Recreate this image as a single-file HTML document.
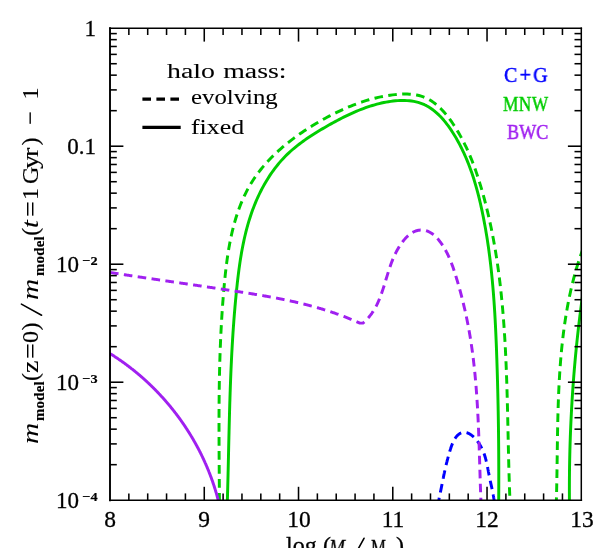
<!DOCTYPE html>
<html><head><meta charset="utf-8">
<style>
html,body{margin:0;padding:0;background:#fff;overflow:hidden;width:598px;height:548px;}
#w{position:absolute;left:0;top:0;width:598px;height:548px;overflow:hidden;background:#fff;contain:strict;}
body{width:598px;height:548px;overflow:hidden;position:relative;font-family:"Liberation Serif",serif;color:#000;}
svg{position:absolute;left:0;top:0;}
.t{-webkit-text-stroke:0.3px currentColor;will-change:transform;position:absolute;white-space:nowrap;line-height:1;transform-origin:0 0;}
.xt{font-size:23px;top:507.8px;width:50px;text-align:center;transform-origin:50% 0;transform:scaleX(1.02);}
.yt{font-size:23px;transform-origin:100% 0;transform:scaleX(1.0);width:60px;text-align:right;}
.sp{will-change:transform;-webkit-text-stroke:0.2px #000;font-size:13px;transform-origin:0 0;transform:scaleX(1.1);font-weight:bold;position:absolute;white-space:nowrap;line-height:1;letter-spacing:0.3px;}
.lg{font-size:21px;-webkit-text-stroke:0.5px currentColor;}
#yl{left:36.9px;top:442px;width:0;height:0;transform:rotate(-90deg);}
#yl span{-webkit-text-stroke:0.18px #000;position:absolute;white-space:nowrap;line-height:1;font-size:24px;bottom:-5.2px;transform-origin:0 100%;}
#yl span.sb{font-size:14px;font-weight:bold;bottom:-9.6px;transform:scaleX(1.06);letter-spacing:0.2px;}
#yl span.mi{transform:scaleX(1.22);-webkit-text-stroke:0.05px #000;}
#yl span.sl{transform:scaleX(1.95);-webkit-text-stroke:0;}
#yl span.w{transform:scaleX(1.17);}
#xl{left:0;top:0;}
#xl span{will-change:transform;-webkit-text-stroke:0.3px #000;position:absolute;white-space:nowrap;line-height:1;font-size:24px;top:533.2px;}
</style></head><body><div id="w">
<svg width="598" height="548" viewBox="0 0 598 548">
<defs><clipPath id="c"><rect x="110.00" y="28.20" width="471.30" height="472.00"/></clipPath></defs>
<g clip-path="url(#c)">
<path d="M437.35,506.14 L437.46,505.70 L437.56,505.26 L437.67,504.82 L437.77,504.39 L437.87,503.95 L437.97,503.51 L438.07,503.08 L438.17,502.65 L438.27,502.22 L438.36,501.79 L438.46,501.36 L438.56,500.94 L438.65,500.51 L438.75,500.09 L438.84,499.67 L438.93,499.24 L439.02,498.82 L439.12,498.41 L439.21,497.99 L439.30,497.57 L439.38,497.16 L439.47,496.74 L439.56,496.33 L439.65,495.91 L439.74,495.50 L439.82,495.09 L439.91,494.68 L439.99,494.28 L440.08,493.87 L440.16,493.46 L440.25,493.06 L440.33,492.65 L440.41,492.25 L440.49,491.84 L440.58,491.44 L440.66,491.04 L440.74,490.64 L440.82,490.24 L440.90,489.84 L440.98,489.44 L441.06,489.04 L441.14,488.64 L441.22,488.24 L441.30,487.85 L441.38,487.45 L441.46,487.06 L441.54,486.66 L441.61,486.27 L441.69,485.87 L441.77,485.48 L441.85,485.09 L441.93,484.69 L442.00,484.30 L442.08,483.91 L442.16,483.52 L442.24,483.12 L442.32,482.73 L442.39,482.34 L442.47,481.95 L442.55,481.56 L442.63,481.17 L442.70,480.78 L442.78,480.39 L442.86,480.00 L442.94,479.61 L443.02,479.22 L443.10,478.83 L443.18,478.44 L443.26,478.05 L443.33,477.66 L443.41,477.27 L443.49,476.88 L443.57,476.49 L443.65,476.10 L443.74,475.70 L443.82,475.31 L443.90,474.92 L443.98,474.53 L444.06,474.14 L444.14,473.75 L444.23,473.36 L444.31,472.96 L444.40,472.57 L444.48,472.18 L444.56,471.78 L444.65,471.39 L444.74,471.00 L444.82,470.60 L444.91,470.20 L445.00,469.81 L445.09,469.41 L445.17,469.02 L445.26,468.62 L445.35,468.22 L445.45,467.82 L445.54,467.42 L445.63,467.02 L445.72,466.62 L445.82,466.22 L445.91,465.82 L446.01,465.41 L446.10,465.01 L446.20,464.61 L446.30,464.20 L446.40,463.79 L446.50,463.39 L446.60,462.98 L446.70,462.57 L446.80,462.16 L446.90,461.75 L447.01,461.34 L447.11,460.92 L447.22,460.51 L447.33,460.09 L447.43,459.68 L447.54,459.26 L447.65,458.84 L447.77,458.42 L447.88,458.00 L447.99,457.58 L448.11,457.16 L448.22,456.73 L448.34,456.31 L448.46,455.88 L448.58,455.45 L448.70,455.02 L448.82,454.59 L448.94,454.16 L449.07,453.72 L449.20,453.29 L449.32,452.85 L449.45,452.41 L449.58,451.97 L449.71,451.53 L449.85,451.09 L449.98,450.65 L450.12,450.21 L450.25,449.76 L450.39,449.32 L450.54,448.88 L450.68,448.43 L450.83,447.99 L450.97,447.55 L451.13,447.11 L451.28,446.68 L451.43,446.24 L451.59,445.81 L451.75,445.38 L451.91,444.95 L452.08,444.53 L452.25,444.10 L452.42,443.68 L452.59,443.27 L452.77,442.86 L452.95,442.45 L453.13,442.05 L453.32,441.65 L453.51,441.26 L453.70,440.87 L453.90,440.49 L454.10,440.11 L454.30,439.74 L454.51,439.37 L454.72,439.01 L454.94,438.66 L455.16,438.32 L455.38,437.98 L455.61,437.65 L455.84,437.32 L456.07,437.01 L456.31,436.70 L456.56,436.40 L456.81,436.11 L457.06,435.83 L457.32,435.56 L457.58,435.30 L457.85,435.05 L458.12,434.80 L458.40,434.57 L458.68,434.35 L458.97,434.14 L459.26,433.93 L459.56,433.74 L459.87,433.57 L460.18,433.40 L460.49,433.24 L460.81,433.10 L461.13,432.97 L461.46,432.85 L461.79,432.75 L462.13,432.66 L462.47,432.58 L462.81,432.51 L463.15,432.46 L463.49,432.42 L463.84,432.39 L464.19,432.38 L464.53,432.38 L464.88,432.40 L465.23,432.43 L465.58,432.47 L465.92,432.53 L466.27,432.60 L466.62,432.69 L466.96,432.78 L467.31,432.89 L467.66,433.01 L468.00,433.15 L468.34,433.29 L468.69,433.45 L469.03,433.62 L469.37,433.79 L469.71,433.98 L470.05,434.18 L470.38,434.39 L470.72,434.61 L471.05,434.84 L471.38,435.07 L471.71,435.32 L472.04,435.57 L472.36,435.83 L472.69,436.10 L473.01,436.38 L473.33,436.67 L473.64,436.96 L473.96,437.26 L474.27,437.57 L474.57,437.88 L474.88,438.20 L475.18,438.52 L475.48,438.85 L475.78,439.19 L476.07,439.53 L476.36,439.87 L476.64,440.22 L476.93,440.57 L477.21,440.93 L477.48,441.29 L477.75,441.65 L478.02,442.02 L478.28,442.39 L478.54,442.76 L478.79,443.13 L479.04,443.51 L479.29,443.89 L479.53,444.27 L479.77,444.65 L480.00,445.03 L480.23,445.41 L480.45,445.79 L480.67,446.17 L480.88,446.56 L481.09,446.94 L481.29,447.32 L481.49,447.71 L481.69,448.10 L481.88,448.48 L482.07,448.87 L482.25,449.26 L482.43,449.65 L482.61,450.04 L482.78,450.43 L482.95,450.82 L483.11,451.21 L483.27,451.60 L483.43,452.00 L483.59,452.39 L483.74,452.78 L483.89,453.18 L484.03,453.57 L484.17,453.97 L484.31,454.36 L484.45,454.76 L484.58,455.16 L484.71,455.56 L484.84,455.95 L484.96,456.35 L485.08,456.75 L485.20,457.15 L485.32,457.55 L485.44,457.95 L485.55,458.35 L485.66,458.75 L485.76,459.15 L485.87,459.55 L485.97,459.95 L486.08,460.36 L486.18,460.76 L486.27,461.16 L486.37,461.56 L486.46,461.97 L486.56,462.37 L486.65,462.78 L486.74,463.18 L486.83,463.58 L486.91,463.99 L487.00,464.39 L487.09,464.80 L487.17,465.20 L487.25,465.61 L487.33,466.02 L487.41,466.42 L487.49,466.83 L487.57,467.23 L487.65,467.64 L487.73,468.05 L487.81,468.45 L487.88,468.86 L487.96,469.26 L488.04,469.67 L488.11,470.08 L488.19,470.48 L488.27,470.89 L488.34,471.30 L488.42,471.70 L488.49,472.11 L488.57,472.52 L488.65,472.93 L488.72,473.33 L488.80,473.74 L488.88,474.14 L488.96,474.55 L489.04,474.96 L489.11,475.36 L489.20,475.77 L489.28,476.18 L489.36,476.58 L489.44,476.99 L489.52,477.39 L489.61,477.80 L489.69,478.21 L489.78,478.61 L489.87,479.02 L489.95,479.42 L490.04,479.83 L490.13,480.23 L490.22,480.64 L490.30,481.04 L490.39,481.45 L490.48,481.85 L490.57,482.26 L490.66,482.66 L490.75,483.07 L490.84,483.47 L490.93,483.88 L491.02,484.28 L491.11,484.69 L491.20,485.09 L491.29,485.50 L491.38,485.90 L491.47,486.31 L491.56,486.72 L491.65,487.12 L491.74,487.53 L491.82,487.93 L491.91,488.34 L492.00,488.74 L492.09,489.15 L492.17,489.56 L492.26,489.96 L492.35,490.37 L492.43,490.78 L492.51,491.18 L492.60,491.59 L492.68,492.00 L492.76,492.41 L492.84,492.81 L492.92,493.22 L493.00,493.63 L493.08,494.04 L493.16,494.45 L493.23,494.86 L493.31,495.27 L493.38,495.68 L493.45,496.09 L493.53,496.50 L493.60,496.91 L493.66,497.32 L493.73,497.73 L493.80,498.14 L493.86,498.55 L493.92,498.96 L493.99,499.37 L494.05,499.79 L494.10,500.20 L494.16,500.61 L494.22,501.03 L494.27,501.44 L494.32,501.86 L494.37,502.27 L494.42,502.69 L494.46,503.10 L494.51,503.52 L494.55,503.93 L494.59,504.35 L494.62,504.77 L494.66,505.19 L494.69,505.60 L494.72,506.02" stroke="#0000ff" stroke-width="2.95" fill="none" stroke-linejoin="round" stroke-dasharray="8.6,5.4" stroke-dashoffset="0.0"/>
<path d="M227.19,506.03 L227.27,503.67 L227.34,501.31 L227.41,498.96 L227.48,496.60 L227.54,494.25 L227.61,491.89 L227.67,489.54 L227.73,487.19 L227.79,484.83 L227.85,482.48 L227.91,480.13 L227.97,477.78 L228.03,475.42 L228.09,473.07 L228.14,470.72 L228.20,468.37 L228.25,466.02 L228.31,463.67 L228.36,461.32 L228.41,458.98 L228.47,456.63 L228.52,454.28 L228.57,451.93 L228.63,449.58 L228.68,447.24 L228.73,444.89 L228.79,442.54 L228.84,440.20 L228.90,437.85 L228.95,435.50 L229.01,433.16 L229.06,430.81 L229.12,428.47 L229.18,426.12 L229.24,423.78 L229.30,421.44 L229.36,419.09 L229.42,416.75 L229.48,414.40 L229.54,412.06 L229.61,409.72 L229.68,407.37 L229.74,405.03 L229.81,402.69 L229.89,400.35 L229.96,398.00 L230.03,395.66 L230.11,393.32 L230.19,390.98 L230.27,388.63 L230.35,386.29 L230.44,383.95 L230.53,381.61 L230.62,379.27 L230.71,376.92 L230.80,374.58 L230.90,372.24 L231.00,369.90 L231.10,367.56 L231.21,365.22 L231.32,362.87 L231.43,360.53 L231.55,358.19 L231.66,355.85 L231.78,353.51 L231.91,351.17 L232.04,348.83 L232.17,346.48 L232.30,344.14 L232.44,341.80 L232.58,339.46 L232.73,337.12 L232.88,334.77 L233.03,332.43 L233.19,330.09 L233.35,327.75 L233.52,325.41 L233.69,323.06 L233.86,320.72 L234.04,318.38 L234.22,316.04 L234.41,313.69 L234.60,311.35 L234.80,309.01 L235.00,306.66 L235.21,304.32 L235.42,301.97 L235.64,299.63 L235.86,297.28 L236.08,294.94 L236.32,292.60 L236.55,290.25 L236.80,287.90 L237.05,285.56 L237.30,283.21 L237.57,280.87 L237.84,278.53 L238.12,276.18 L238.40,273.84 L238.70,271.50 L239.01,269.16 L239.33,266.83 L239.66,264.49 L240.00,262.16 L240.36,259.83 L240.73,257.51 L241.11,255.19 L241.51,252.87 L241.92,250.56 L242.35,248.25 L242.79,245.94 L243.26,243.64 L243.74,241.34 L244.24,239.05 L244.75,236.77 L245.29,234.49 L245.85,232.22 L246.43,229.95 L247.03,227.69 L247.65,225.44 L248.29,223.19 L248.96,220.95 L249.65,218.72 L250.37,216.49 L251.11,214.28 L251.87,212.07 L252.67,209.87 L253.49,207.68 L254.34,205.50 L255.21,203.33 L256.12,201.17 L257.05,199.02 L258.02,196.88 L259.01,194.75 L260.04,192.63 L261.10,190.52 L262.19,188.42 L263.31,186.34 L264.47,184.27 L265.66,182.21 L266.88,180.18 L268.13,178.16 L269.41,176.16 L270.73,174.19 L272.07,172.24 L273.45,170.31 L274.86,168.41 L276.30,166.54 L277.77,164.71 L279.26,162.90 L280.79,161.13 L282.35,159.39 L283.94,157.70 L285.56,156.04 L287.20,154.41 L288.87,152.82 L290.57,151.27 L292.30,149.75 L294.05,148.26 L295.82,146.80 L297.62,145.36 L299.44,143.96 L301.28,142.57 L303.15,141.22 L305.03,139.88 L306.93,138.57 L308.85,137.27 L310.79,135.99 L312.75,134.73 L314.72,133.49 L316.71,132.26 L318.71,131.04 L320.73,129.83 L322.76,128.63 L324.80,127.44 L326.86,126.25 L328.92,125.08 L331.00,123.91 L333.08,122.75 L335.18,121.61 L337.29,120.47 L339.41,119.36 L341.54,118.26 L343.68,117.18 L345.83,116.12 L347.99,115.08 L350.15,114.06 L352.33,113.06 L354.52,112.10 L356.72,111.16 L358.93,110.25 L361.15,109.37 L363.37,108.52 L365.61,107.70 L367.85,106.92 L370.11,106.18 L372.37,105.47 L374.64,104.81 L376.92,104.18 L379.20,103.60 L381.50,103.06 L383.80,102.56 L386.11,102.12 L388.43,101.72 L390.75,101.37 L393.09,101.08 L395.43,100.83 L397.77,100.65 L400.10,100.53 L402.43,100.48 L404.75,100.50 L407.06,100.60 L409.34,100.78 L411.60,101.05 L413.84,101.40 L416.04,101.85 L418.21,102.40 L420.33,103.06 L422.41,103.82 L424.45,104.70 L426.43,105.68 L428.37,106.77 L430.27,107.95 L432.11,109.23 L433.92,110.59 L435.68,112.04 L437.39,113.56 L439.07,115.16 L440.70,116.82 L442.29,118.55 L443.84,120.33 L445.36,122.17 L446.83,124.05 L448.27,125.97 L449.66,127.94 L451.03,129.93 L452.35,131.95 L453.64,133.99 L454.90,136.04 L456.13,138.11 L457.32,140.20 L458.48,142.29 L459.61,144.39 L460.70,146.51 L461.77,148.63 L462.81,150.77 L463.82,152.91 L464.80,155.07 L465.75,157.23 L466.68,159.40 L467.58,161.59 L468.45,163.78 L469.30,165.98 L470.13,168.18 L470.93,170.39 L471.71,172.61 L472.46,174.84 L473.20,177.08 L473.92,179.32 L474.61,181.56 L475.28,183.81 L475.94,186.07 L476.58,188.33 L477.20,190.60 L477.80,192.87 L478.39,195.15 L478.96,197.42 L479.52,199.71 L480.06,201.99 L480.59,204.28 L481.10,206.57 L481.61,208.87 L482.10,211.16 L482.58,213.46 L483.05,215.76 L483.50,218.06 L483.95,220.36 L484.39,222.66 L484.82,224.97 L485.23,227.27 L485.64,229.58 L486.03,231.89 L486.42,234.20 L486.80,236.52 L487.17,238.83 L487.52,241.15 L487.87,243.46 L488.21,245.78 L488.54,248.10 L488.86,250.42 L489.18,252.74 L489.48,255.07 L489.78,257.39 L490.07,259.72 L490.35,262.04 L490.62,264.37 L490.88,266.70 L491.14,269.03 L491.39,271.36 L491.63,273.69 L491.87,276.03 L492.10,278.36 L492.32,280.70 L492.53,283.03 L492.74,285.37 L492.94,287.71 L493.14,290.04 L493.33,292.38 L493.51,294.72 L493.69,297.06 L493.86,299.40 L494.03,301.75 L494.19,304.09 L494.35,306.43 L494.50,308.78 L494.65,311.12 L494.79,313.46 L494.93,315.81 L495.06,318.15 L495.19,320.50 L495.31,322.85 L495.43,325.19 L495.55,327.54 L495.66,329.89 L495.77,332.24 L495.88,334.58 L495.98,336.93 L496.08,339.28 L496.18,341.63 L496.28,343.98 L496.37,346.33 L496.46,348.67 L496.55,351.02 L496.63,353.37 L496.71,355.72 L496.80,358.07 L496.88,360.42 L496.95,362.77 L497.03,365.12 L497.10,367.46 L497.18,369.81 L497.25,372.16 L497.32,374.51 L497.39,376.86 L497.45,379.21 L497.52,381.56 L497.58,383.90 L497.64,386.25 L497.70,388.60 L497.76,390.95 L497.82,393.30 L497.87,395.64 L497.92,397.99 L497.97,400.34 L498.02,402.69 L498.07,405.04 L498.12,407.38 L498.16,409.73 L498.21,412.08 L498.25,414.43 L498.29,416.78 L498.33,419.12 L498.36,421.47 L498.40,423.82 L498.43,426.17 L498.47,428.51 L498.50,430.86 L498.52,433.21 L498.55,435.56 L498.58,437.91 L498.60,440.25 L498.63,442.60 L498.65,444.95 L498.67,447.30 L498.68,449.64 L498.70,451.99 L498.72,454.34 L498.73,456.69 L498.74,459.04 L498.75,461.38 L498.76,463.73 L498.77,466.08 L498.77,468.43 L498.78,470.78 L498.78,473.12 L498.78,475.47 L498.78,477.82 L498.78,480.17 L498.78,482.52 L498.77,484.86 L498.77,487.21 L498.76,489.56 L498.75,491.91 L498.74,494.26 L498.73,496.61 L498.72,498.95 L498.70,501.30 L498.69,503.65 L498.67,506.00" stroke="#00cd00" stroke-width="2.95" fill="none" stroke-linejoin="round"/>
<path d="M219.45,506.17 L219.44,503.70 L219.43,501.23 L219.41,498.77 L219.40,496.31 L219.38,493.85 L219.37,491.40 L219.35,488.95 L219.33,486.50 L219.32,484.06 L219.30,481.62 L219.28,479.18 L219.27,476.75 L219.25,474.31 L219.23,471.88 L219.21,469.46 L219.20,467.03 L219.18,464.61 L219.16,462.19 L219.15,459.77 L219.13,457.36 L219.12,454.95 L219.10,452.54 L219.09,450.13 L219.08,447.72 L219.07,445.31 L219.06,442.91 L219.05,440.51 L219.04,438.11 L219.03,435.71 L219.02,433.31 L219.02,430.92 L219.02,428.52 L219.01,426.13 L219.01,423.74 L219.02,421.35 L219.02,418.96 L219.02,416.57 L219.03,414.18 L219.04,411.80 L219.05,409.41 L219.06,407.03 L219.08,404.64 L219.10,402.26 L219.12,399.88 L219.14,397.49 L219.16,395.11 L219.19,392.73 L219.22,390.35 L219.25,387.96 L219.29,385.58 L219.32,383.20 L219.37,380.82 L219.41,378.44 L219.46,376.05 L219.51,373.67 L219.56,371.29 L219.62,368.90 L219.68,366.52 L219.74,364.13 L219.81,361.75 L219.88,359.36 L219.95,356.98 L220.03,354.59 L220.12,352.20 L220.20,349.81 L220.29,347.42 L220.39,345.03 L220.48,342.63 L220.59,340.24 L220.69,337.84 L220.80,335.45 L220.92,333.05 L221.04,330.65 L221.17,328.25 L221.29,325.84 L221.43,323.44 L221.57,321.03 L221.71,318.62 L221.86,316.21 L222.01,313.79 L222.17,311.38 L222.34,308.96 L222.51,306.54 L222.68,304.12 L222.86,301.69 L223.05,299.26 L223.24,296.83 L223.44,294.40 L223.64,291.97 L223.85,289.53 L224.06,287.09 L224.29,284.64 L224.51,282.20 L224.75,279.75 L225.00,277.30 L225.25,274.86 L225.52,272.41 L225.80,269.97 L226.08,267.52 L226.38,265.08 L226.70,262.64 L227.03,260.20 L227.37,257.77 L227.73,255.34 L228.10,252.92 L228.49,250.50 L228.89,248.09 L229.32,245.68 L229.76,243.28 L230.22,240.89 L230.71,238.51 L231.21,236.13 L231.73,233.76 L232.28,231.41 L232.85,229.06 L233.44,226.72 L234.06,224.40 L234.70,222.08 L235.37,219.78 L236.06,217.49 L236.78,215.21 L237.53,212.95 L238.31,210.70 L239.11,208.47 L239.95,206.25 L240.81,204.05 L241.71,201.86 L242.64,199.69 L243.60,197.54 L244.59,195.41 L245.62,193.29 L246.69,191.19 L247.78,189.12 L248.92,187.06 L250.09,185.02 L251.30,183.01 L252.54,181.01 L253.83,179.04 L255.15,177.09 L256.51,175.16 L257.90,173.26 L259.33,171.37 L260.80,169.51 L262.29,167.67 L263.82,165.85 L265.38,164.05 L266.98,162.27 L268.60,160.51 L270.25,158.78 L271.93,157.06 L273.64,155.37 L275.37,153.70 L277.13,152.05 L278.92,150.42 L280.72,148.81 L282.56,147.22 L284.41,145.65 L286.29,144.10 L288.18,142.57 L290.10,141.06 L292.04,139.58 L293.99,138.11 L295.96,136.66 L297.95,135.24 L299.96,133.83 L301.98,132.44 L304.01,131.07 L306.06,129.72 L308.11,128.40 L310.18,127.09 L312.27,125.80 L314.36,124.53 L316.46,123.28 L318.57,122.04 L320.68,120.83 L322.81,119.64 L324.93,118.46 L327.07,117.31 L329.21,116.17 L331.35,115.06 L333.50,113.96 L335.65,112.89 L337.82,111.83 L339.98,110.80 L342.16,109.80 L344.34,108.82 L346.53,107.86 L348.73,106.93 L350.94,106.02 L353.16,105.14 L355.38,104.29 L357.62,103.46 L359.87,102.67 L362.12,101.90 L364.39,101.17 L366.67,100.46 L368.96,99.79 L371.26,99.14 L373.57,98.53 L375.89,97.96 L378.23,97.42 L380.58,96.91 L382.95,96.44 L385.33,96.00 L387.72,95.60 L390.13,95.24 L392.55,94.91 L394.99,94.63 L397.43,94.39 L399.88,94.21 L402.33,94.09 L404.76,94.03 L407.19,94.06 L409.59,94.16 L411.97,94.35 L414.32,94.64 L416.64,95.03 L418.92,95.54 L421.15,96.15 L423.33,96.89 L425.45,97.76 L427.53,98.75 L429.55,99.85 L431.52,101.06 L433.44,102.37 L435.31,103.78 L437.13,105.27 L438.91,106.85 L440.64,108.51 L442.32,110.23 L443.96,112.02 L445.56,113.87 L447.12,115.77 L448.64,117.72 L450.11,119.71 L451.55,121.73 L452.95,123.77 L454.32,125.84 L455.65,127.93 L456.95,130.02 L458.21,132.13 L459.44,134.26 L460.64,136.39 L461.81,138.54 L462.94,140.69 L464.05,142.86 L465.13,145.04 L466.18,147.23 L467.21,149.43 L468.20,151.64 L469.17,153.85 L470.12,156.08 L471.05,158.31 L471.95,160.55 L472.82,162.80 L473.68,165.06 L474.52,167.32 L475.33,169.59 L476.13,171.87 L476.90,174.15 L477.67,176.44 L478.41,178.73 L479.14,181.02 L479.85,183.32 L480.55,185.63 L481.23,187.93 L481.90,190.24 L482.56,192.56 L483.21,194.87 L483.84,197.19 L484.47,199.51 L485.08,201.83 L485.68,204.16 L486.27,206.49 L486.85,208.82 L487.42,211.15 L487.97,213.48 L488.52,215.82 L489.05,218.16 L489.58,220.50 L490.09,222.84 L490.59,225.19 L491.09,227.53 L491.57,229.88 L492.04,232.24 L492.51,234.59 L492.96,236.95 L493.40,239.30 L493.84,241.66 L494.26,244.02 L494.68,246.39 L495.08,248.75 L495.48,251.12 L495.87,253.49 L496.25,255.86 L496.62,258.23 L496.98,260.61 L497.33,262.98 L497.68,265.36 L498.01,267.74 L498.34,270.12 L498.66,272.50 L498.97,274.88 L499.28,277.27 L499.58,279.65 L499.87,282.04 L500.15,284.43 L500.42,286.82 L500.69,289.21 L500.95,291.60 L501.21,294.00 L501.45,296.39 L501.69,298.79 L501.93,301.19 L502.15,303.59 L502.37,305.99 L502.59,308.39 L502.80,310.79 L503.00,313.19 L503.20,315.60 L503.39,318.00 L503.57,320.41 L503.75,322.81 L503.93,325.22 L504.09,327.63 L504.26,330.04 L504.42,332.45 L504.57,334.86 L504.72,337.27 L504.86,339.68 L505.00,342.09 L505.14,344.51 L505.27,346.92 L505.40,349.33 L505.52,351.75 L505.64,354.16 L505.75,356.58 L505.86,358.99 L505.97,361.41 L506.07,363.83 L506.17,366.24 L506.27,368.66 L506.36,371.08 L506.45,373.50 L506.54,375.91 L506.63,378.33 L506.71,380.75 L506.79,383.17 L506.86,385.59 L506.94,388.01 L507.01,390.42 L507.08,392.84 L507.15,395.26 L507.22,397.68 L507.28,400.10 L507.34,402.51 L507.41,404.93 L507.47,407.35 L507.53,409.77 L507.58,412.18 L507.64,414.60 L507.70,417.02 L507.75,419.43 L507.80,421.85 L507.86,424.26 L507.91,426.68 L507.96,429.09 L508.02,431.51 L508.07,433.92 L508.12,436.33 L508.17,438.74 L508.23,441.16 L508.28,443.57 L508.33,445.98 L508.39,448.38 L508.44,450.79 L508.50,453.20 L508.56,455.61 L508.62,458.01 L508.67,460.42 L508.74,462.82 L508.80,465.22 L508.86,467.63 L508.93,470.03 L508.99,472.43 L509.06,474.83 L509.13,477.22 L509.21,479.62 L509.28,482.02 L509.36,484.41 L509.44,486.80 L509.52,489.20 L509.61,491.59 L509.69,493.97 L509.79,496.36 L509.88,498.75 L509.98,501.13 L510.08,503.52 L510.18,505.90" stroke="#00cd00" stroke-width="2.95" fill="none" stroke-linejoin="round" stroke-dasharray="8.6,5.4" stroke-dashoffset="9.5"/>
<path d="M569.47,506.00 L569.46,505.44 L569.46,504.87 L569.45,504.31 L569.45,503.75 L569.44,503.18 L569.44,502.62 L569.43,502.06 L569.43,501.49 L569.42,500.93 L569.42,500.37 L569.41,499.80 L569.41,499.24 L569.41,498.68 L569.40,498.12 L569.40,497.55 L569.40,496.99 L569.40,496.43 L569.39,495.86 L569.39,495.30 L569.39,494.74 L569.39,494.17 L569.39,493.61 L569.39,493.05 L569.38,492.48 L569.38,491.92 L569.38,491.36 L569.38,490.79 L569.38,490.23 L569.38,489.67 L569.38,489.10 L569.38,488.54 L569.38,487.98 L569.38,487.41 L569.39,486.85 L569.39,486.29 L569.39,485.72 L569.39,485.16 L569.39,484.60 L569.39,484.03 L569.40,483.47 L569.40,482.91 L569.40,482.34 L569.40,481.78 L569.41,481.22 L569.41,480.65 L569.41,480.09 L569.42,479.53 L569.42,478.96 L569.43,478.40 L569.43,477.84 L569.43,477.27 L569.44,476.71 L569.44,476.15 L569.45,475.58 L569.46,475.02 L569.46,474.46 L569.47,473.89 L569.47,473.33 L569.48,472.77 L569.49,472.20 L569.49,471.64 L569.50,471.08 L569.51,470.51 L569.51,469.95 L569.52,469.39 L569.53,468.82 L569.54,468.26 L569.54,467.70 L569.55,467.13 L569.56,466.57 L569.57,466.01 L569.58,465.45 L569.59,464.88 L569.60,464.32 L569.61,463.76 L569.62,463.19 L569.63,462.63 L569.64,462.07 L569.65,461.50 L569.66,460.94 L569.67,460.38 L569.68,459.81 L569.69,459.25 L569.70,458.69 L569.72,458.12 L569.73,457.56 L569.74,457.00 L569.75,456.43 L569.77,455.87 L569.78,455.31 L569.79,454.74 L569.80,454.18 L569.82,453.62 L569.83,453.06 L569.85,452.49 L569.86,451.93 L569.87,451.37 L569.89,450.80 L569.90,450.24 L569.92,449.68 L569.93,449.11 L569.95,448.55 L569.97,447.99 L569.98,447.42 L570.00,446.86 L570.01,446.30 L570.03,445.74 L570.05,445.17 L570.06,444.61 L570.08,444.05 L570.10,443.48 L570.12,442.92 L570.13,442.36 L570.15,441.79 L570.17,441.23 L570.19,440.67 L570.21,440.11 L570.23,439.54 L570.25,438.98 L570.26,438.42 L570.28,437.85 L570.30,437.29 L570.32,436.73 L570.34,436.16 L570.36,435.60 L570.39,435.04 L570.41,434.48 L570.43,433.91 L570.45,433.35 L570.47,432.79 L570.49,432.22 L570.51,431.66 L570.54,431.10 L570.56,430.54 L570.58,429.97 L570.60,429.41 L570.63,428.85 L570.65,428.28 L570.67,427.72 L570.70,427.16 L570.72,426.60 L570.75,426.03 L570.77,425.47 L570.80,424.91 L570.82,424.35 L570.85,423.78 L570.87,423.22 L570.90,422.66 L570.92,422.09 L570.95,421.53 L570.97,420.97 L571.00,420.41 L571.03,419.84 L571.05,419.28 L571.08,418.72 L571.11,418.16 L571.14,417.59 L571.16,417.03 L571.19,416.47 L571.22,415.91 L571.25,415.34 L571.28,414.78 L571.31,414.22 L571.33,413.66 L571.36,413.09 L571.39,412.53 L571.42,411.97 L571.45,411.41 L571.48,410.84 L571.51,410.28 L571.54,409.72 L571.57,409.16 L571.61,408.59 L571.64,408.03 L571.67,407.47 L571.70,406.91 L571.73,406.34 L571.76,405.78 L571.80,405.22 L571.83,404.66 L571.86,404.10 L571.90,403.53 L571.93,402.97 L571.96,402.41 L572.00,401.85 L572.03,401.28 L572.06,400.72 L572.10,400.16 L572.13,399.60 L572.17,399.04 L572.20,398.47 L572.24,397.91 L572.27,397.35 L572.31,396.79 L572.35,396.22 L572.38,395.66 L572.42,395.10 L572.46,394.54 L572.49,393.98 L572.53,393.41 L572.57,392.85 L572.60,392.29 L572.64,391.73 L572.68,391.17 L572.72,390.60 L572.76,390.04 L572.80,389.48 L572.83,388.92 L572.87,388.36 L572.91,387.80 L572.95,387.23 L572.99,386.67 L573.03,386.11 L573.07,385.55 L573.11,384.99 L573.15,384.42 L573.20,383.86 L573.24,383.30 L573.28,382.74 L573.32,382.18 L573.36,381.62 L573.40,381.05 L573.45,380.49 L573.49,379.93 L573.53,379.37 L573.58,378.81 L573.62,378.25 L573.66,377.69 L573.71,377.12 L573.75,376.56 L573.79,376.00 L573.84,375.44 L573.88,374.88 L573.93,374.32 L573.97,373.75 L574.02,373.19 L574.06,372.63 L574.11,372.07 L574.16,371.51 L574.20,370.95 L574.25,370.39 L574.30,369.83 L574.34,369.26 L574.39,368.70 L574.44,368.14 L574.49,367.58 L574.53,367.02 L574.58,366.46 L574.63,365.90 L574.68,365.34 L574.73,364.78 L574.78,364.21 L574.83,363.65 L574.88,363.09 L574.93,362.53 L574.98,361.97 L575.03,361.41 L575.08,360.85 L575.13,360.29 L575.18,359.73 L575.23,359.17 L575.28,358.60 L575.33,358.04 L575.38,357.48 L575.44,356.92 L575.49,356.36 L575.54,355.80 L575.59,355.24 L575.65,354.68 L575.70,354.12 L575.75,353.56 L575.81,353.00 L575.86,352.44 L575.92,351.88 L575.97,351.32 L576.02,350.75 L576.08,350.19 L576.14,349.63 L576.19,349.07 L576.25,348.51 L576.30,347.95 L576.36,347.39 L576.41,346.83 L576.47,346.27 L576.53,345.71 L576.58,345.15 L576.64,344.59 L576.70,344.03 L576.76,343.47 L576.82,342.91 L576.87,342.35 L576.93,341.79 L576.99,341.23 L577.05,340.67 L577.11,340.11 L577.17,339.55 L577.23,338.99 L577.29,338.43 L577.35,337.87 L577.41,337.31 L577.47,336.75 L577.53,336.19 L577.59,335.63 L577.65,335.07 L577.71,334.51 L577.78,333.95 L577.84,333.39 L577.90,332.83 L577.96,332.27 L578.03,331.71 L578.09,331.15 L578.15,330.59 L578.22,330.03 L578.28,329.47 L578.34,328.91 L578.41,328.35 L578.47,327.79 L578.54,327.23 L578.60,326.67 L578.67,326.11 L578.73,325.56 L578.80,325.00 L578.86,324.44 L578.93,323.88 L579.00,323.32 L579.06,322.76 L579.13,322.20 L579.20,321.64 L579.26,321.08 L579.33,320.52 L579.40,319.96 L579.47,319.40 L579.54,318.84 L579.60,318.29 L579.67,317.73 L579.74,317.17 L579.81,316.61 L579.88,316.05 L579.95,315.49 L580.02,314.93 L580.09,314.37 L580.16,313.81 L580.23,313.25 L580.30,312.70 L580.37,312.14 L580.45,311.58 L580.52,311.02 L580.59,310.46 L580.66,309.90 L580.73,309.34 L580.81,308.79 L580.88,308.23 L580.95,307.67 L581.03,307.11 L581.10,306.55 L581.17,305.99 L581.25,305.43 L581.32,304.88 L581.40,304.32 L581.47,303.76 L581.55,303.20 L581.62,302.64 L581.70,302.08 L581.77,301.53 L581.85,300.97 L581.93,300.41 L582.00,299.85 L582.08,299.29 L582.16,298.74 L582.23,298.18 L582.31,297.62 L582.39,297.06 L582.47,296.50 L582.54,295.95 L582.62,295.39 L582.70,294.83 L582.78,294.27 L582.86,293.72 L582.94,293.16 L583.02,292.60 L583.10,292.04 L583.18,291.48 L583.26,290.93 L583.34,290.37 L583.42,289.81 L583.50,289.25 L583.58,288.70 L583.67,288.14 L583.75,287.58 L583.83,287.02 L583.91,286.47 L584.00,285.91 L584.08,285.35 L584.16,284.80 L584.25,284.24 L584.33,283.68 L584.41,283.12 L584.50,282.57 L584.58,282.01" stroke="#00cd00" stroke-width="2.95" fill="none" stroke-linejoin="round"/>
<path d="M556.21,505.95 L556.23,505.29 L556.25,504.64 L556.27,503.99 L556.29,503.34 L556.31,502.68 L556.33,502.03 L556.35,501.38 L556.37,500.72 L556.39,500.07 L556.40,499.42 L556.42,498.76 L556.44,498.11 L556.46,497.45 L556.48,496.80 L556.49,496.14 L556.51,495.49 L556.53,494.83 L556.54,494.18 L556.56,493.52 L556.57,492.87 L556.59,492.21 L556.61,491.56 L556.62,490.90 L556.64,490.24 L556.65,489.59 L556.66,488.93 L556.68,488.28 L556.69,487.62 L556.71,486.96 L556.72,486.30 L556.73,485.65 L556.75,484.99 L556.76,484.33 L556.77,483.68 L556.79,483.02 L556.80,482.36 L556.81,481.70 L556.82,481.04 L556.83,480.39 L556.85,479.73 L556.86,479.07 L556.87,478.41 L556.88,477.75 L556.89,477.09 L556.90,476.43 L556.91,475.77 L556.93,475.12 L556.94,474.46 L556.95,473.80 L556.96,473.14 L556.97,472.48 L556.98,471.82 L556.99,471.16 L557.00,470.50 L557.01,469.84 L557.02,469.18 L557.03,468.52 L557.04,467.86 L557.05,467.19 L557.06,466.53 L557.07,465.87 L557.08,465.21 L557.09,464.55 L557.09,463.89 L557.10,463.23 L557.11,462.57 L557.12,461.91 L557.13,461.24 L557.14,460.58 L557.15,459.92 L557.16,459.26 L557.17,458.60 L557.18,457.94 L557.19,457.27 L557.20,456.61 L557.20,455.95 L557.21,455.29 L557.22,454.62 L557.23,453.96 L557.24,453.30 L557.25,452.64 L557.26,451.97 L557.27,451.31 L557.28,450.65 L557.29,449.98 L557.30,449.32 L557.30,448.66 L557.31,448.00 L557.32,447.33 L557.33,446.67 L557.34,446.01 L557.35,445.34 L557.36,444.68 L557.37,444.01 L557.38,443.35 L557.39,442.69 L557.40,442.02 L557.41,441.36 L557.42,440.70 L557.43,440.03 L557.44,439.37 L557.45,438.70 L557.46,438.04 L557.47,437.38 L557.48,436.71 L557.49,436.05 L557.51,435.38 L557.52,434.72 L557.53,434.05 L557.54,433.39 L557.55,432.72 L557.56,432.06 L557.58,431.40 L557.59,430.73 L557.60,430.07 L557.61,429.40 L557.62,428.74 L557.64,428.07 L557.65,427.41 L557.66,426.74 L557.68,426.08 L557.69,425.41 L557.70,424.75 L557.72,424.08 L557.73,423.42 L557.75,422.75 L557.76,422.09 L557.78,421.42 L557.79,420.76 L557.81,420.09 L557.82,419.43 L557.84,418.76 L557.85,418.10 L557.87,417.43 L557.89,416.77 L557.90,416.10 L557.92,415.44 L557.94,414.77 L557.95,414.11 L557.97,413.44 L557.99,412.78 L558.01,412.11 L558.03,411.45 L558.04,410.78 L558.06,410.12 L558.08,409.45 L558.10,408.78 L558.12,408.12 L558.14,407.45 L558.16,406.79 L558.19,406.12 L558.21,405.46 L558.23,404.79 L558.25,404.13 L558.27,403.46 L558.29,402.80 L558.32,402.13 L558.34,401.47 L558.36,400.80 L558.39,400.14 L558.41,399.47 L558.44,398.81 L558.46,398.14 L558.49,397.48 L558.51,396.81 L558.54,396.15 L558.57,395.48 L558.59,394.82 L558.62,394.15 L558.65,393.49 L558.68,392.82 L558.71,392.16 L558.74,391.50 L558.77,390.83 L558.79,390.17 L558.83,389.50 L558.86,388.84 L558.89,388.17 L558.92,387.51 L558.95,386.84 L558.98,386.18 L559.02,385.52 L559.05,384.85 L559.08,384.19 L559.12,383.52 L559.15,382.86 L559.19,382.20 L559.22,381.53 L559.26,380.87 L559.30,380.20 L559.33,379.54 L559.37,378.88 L559.41,378.21 L559.45,377.55 L559.49,376.89 L559.53,376.22 L559.57,375.56 L559.61,374.90 L559.65,374.23 L559.69,373.57 L559.73,372.91 L559.78,372.24 L559.82,371.58 L559.86,370.92 L559.91,370.25 L559.95,369.59 L560.00,368.93 L560.05,368.27 L560.09,367.60 L560.14,366.94 L560.19,366.28 L560.24,365.62 L560.28,364.95 L560.33,364.29 L560.38,363.63 L560.44,362.97 L560.49,362.31 L560.54,361.65 L560.59,360.98 L560.64,360.32 L560.70,359.66 L560.75,359.00 L560.81,358.34 L560.86,357.68 L560.92,357.02 L560.98,356.36 L561.04,355.70 L561.09,355.03 L561.15,354.37 L561.21,353.71 L561.27,353.05 L561.33,352.39 L561.39,351.73 L561.46,351.07 L561.52,350.41 L561.58,349.75 L561.65,349.09 L561.71,348.43 L561.78,347.77 L561.85,347.12 L561.91,346.46 L561.98,345.80 L562.05,345.14 L562.12,344.48 L562.19,343.82 L562.26,343.16 L562.33,342.50 L562.40,341.85 L562.48,341.19 L562.55,340.53 L562.62,339.87 L562.70,339.21 L562.77,338.56 L562.85,337.90 L562.93,337.24 L563.01,336.58 L563.09,335.93 L563.17,335.27 L563.25,334.61 L563.33,333.96 L563.41,333.30 L563.49,332.64 L563.58,331.99 L563.66,331.33 L563.75,330.68 L563.83,330.02 L563.92,329.37 L564.01,328.71 L564.09,328.05 L564.18,327.40 L564.27,326.74 L564.37,326.09 L564.46,325.44 L564.55,324.78 L564.64,324.13 L564.74,323.47 L564.83,322.82 L564.93,322.17 L565.03,321.51 L565.12,320.86 L565.22,320.21 L565.32,319.55 L565.42,318.90 L565.52,318.25 L565.63,317.59 L565.73,316.94 L565.83,316.29 L565.94,315.64 L566.05,314.99 L566.15,314.33 L566.26,313.68 L566.37,313.03 L566.48,312.38 L566.59,311.73 L566.70,311.08 L566.81,310.43 L566.93,309.78 L567.04,309.13 L567.16,308.48 L567.27,307.83 L567.39,307.18 L567.51,306.53 L567.63,305.88 L567.75,305.23 L567.87,304.58 L567.99,303.94 L568.11,303.29 L568.24,302.64 L568.36,301.99 L568.49,301.34 L568.62,300.70 L568.74,300.05 L568.87,299.40 L569.00,298.76 L569.13,298.11 L569.27,297.46 L569.40,296.82 L569.54,296.17 L569.67,295.53 L569.81,294.88 L569.95,294.24 L570.08,293.59 L570.22,292.95 L570.37,292.30 L570.51,291.66 L570.65,291.02 L570.80,290.37 L570.94,289.73 L571.09,289.09 L571.24,288.44 L571.39,287.80 L571.54,287.16 L571.69,286.52 L571.84,285.87 L571.99,285.23 L572.15,284.59 L572.30,283.95 L572.46,283.31 L572.62,282.67 L572.78,282.03 L572.94,281.39 L573.10,280.75 L573.27,280.11 L573.43,279.47 L573.60,278.83 L573.76,278.19 L573.93,277.56 L574.10,276.92 L574.27,276.28 L574.44,275.64 L574.62,275.01 L574.79,274.37 L574.97,273.73 L575.14,273.10 L575.32,272.46 L575.50,271.83 L575.68,271.19 L575.87,270.56 L576.05,269.92 L576.23,269.29 L576.42,268.65 L576.61,268.02 L576.80,267.39 L576.99,266.75 L577.18,266.12 L577.37,265.49 L577.57,264.86 L577.76,264.22 L577.96,263.59 L578.16,262.96 L578.36,262.33 L578.56,261.70 L578.76,261.07 L578.96,260.44 L579.17,259.81 L579.38,259.18 L579.58,258.55 L579.79,257.92 L580.00,257.30 L580.22,256.67 L580.43,256.04 L580.65,255.41 L580.86,254.79 L581.08,254.16 L581.30,253.54 L581.52,252.91 L581.75,252.28 L581.97,251.66 L582.20,251.04 L582.42,250.41 L582.65,249.79 L582.88,249.16 L583.11,248.54 L583.35,247.92 L583.58,247.30 L583.82,246.67 L584.05,246.05 L584.29,245.43 L584.53,244.81" stroke="#00cd00" stroke-width="2.95" fill="none" stroke-linejoin="round" stroke-dasharray="8.6,5.4" stroke-dashoffset="0.0"/>
<path d="M103.80,349.85 L104.23,350.10 L104.66,350.35 L105.09,350.60 L105.52,350.85 L105.95,351.11 L106.37,351.36 L106.80,351.62 L107.23,351.87 L107.66,352.13 L108.08,352.39 L108.51,352.65 L108.93,352.91 L109.36,353.17 L109.78,353.43 L110.20,353.70 L110.63,353.96 L111.05,354.22 L111.47,354.49 L111.89,354.76 L112.31,355.02 L112.73,355.29 L113.15,355.56 L113.57,355.83 L113.99,356.10 L114.41,356.37 L114.82,356.64 L115.24,356.92 L115.66,357.19 L116.07,357.47 L116.49,357.74 L116.90,358.02 L117.32,358.30 L117.73,358.57 L118.14,358.85 L118.55,359.13 L118.96,359.42 L119.38,359.70 L119.79,359.98 L120.20,360.26 L120.60,360.55 L121.01,360.83 L121.42,361.12 L121.83,361.41 L122.23,361.69 L122.64,361.98 L123.05,362.27 L123.45,362.56 L123.86,362.85 L124.26,363.14 L124.66,363.44 L125.06,363.73 L125.47,364.03 L125.87,364.32 L126.27,364.62 L126.67,364.91 L127.07,365.21 L127.47,365.51 L127.87,365.81 L128.26,366.11 L128.66,366.41 L129.06,366.71 L129.45,367.01 L129.85,367.32 L130.24,367.62 L130.64,367.93 L131.03,368.23 L131.42,368.54 L131.81,368.85 L132.21,369.15 L132.60,369.46 L132.99,369.77 L133.38,370.08 L133.77,370.40 L134.15,370.71 L134.54,371.02 L134.93,371.33 L135.31,371.65 L135.70,371.96 L136.09,372.28 L136.47,372.60 L136.85,372.91 L137.24,373.23 L137.62,373.55 L138.00,373.87 L138.38,374.19 L138.76,374.51 L139.14,374.84 L139.52,375.16 L139.90,375.48 L140.28,375.81 L140.66,376.13 L141.03,376.46 L141.41,376.79 L141.78,377.11 L142.16,377.44 L142.53,377.77 L142.91,378.10 L143.28,378.43 L143.65,378.76 L144.02,379.10 L144.39,379.43 L144.76,379.76 L145.13,380.10 L145.50,380.43 L145.87,380.77 L146.24,381.11 L146.60,381.44 L146.97,381.78 L147.34,382.12 L147.70,382.46 L148.06,382.80 L148.43,383.14 L148.79,383.48 L149.15,383.83 L149.51,384.17 L149.87,384.51 L150.23,384.86 L150.59,385.20 L150.95,385.55 L151.31,385.90 L151.67,386.24 L152.02,386.59 L152.38,386.94 L152.73,387.29 L153.09,387.64 L153.44,387.99 L153.80,388.34 L154.15,388.70 L154.50,389.05 L154.85,389.40 L155.20,389.76 L155.55,390.11 L155.90,390.47 L156.25,390.83 L156.59,391.18 L156.94,391.54 L157.29,391.90 L157.63,392.26 L157.98,392.62 L158.32,392.98 L158.66,393.34 L159.00,393.71 L159.35,394.07 L159.69,394.43 L160.03,394.80 L160.37,395.16 L160.71,395.53 L161.04,395.89 L161.38,396.26 L161.72,396.63 L162.05,397.00 L162.39,397.37 L162.72,397.74 L163.06,398.11 L163.39,398.48 L163.72,398.85 L164.05,399.22 L164.38,399.59 L164.71,399.97 L165.04,400.34 L165.37,400.72 L165.70,401.09 L166.02,401.47 L166.35,401.85 L166.68,402.22 L167.00,402.60 L167.32,402.98 L167.65,403.36 L167.97,403.74 L168.29,404.12 L168.61,404.50 L168.93,404.89 L169.25,405.27 L169.57,405.65 L169.89,406.04 L170.20,406.42 L170.52,406.81 L170.84,407.19 L171.15,407.58 L171.47,407.97 L171.78,408.35 L172.09,408.74 L172.40,409.13 L172.71,409.52 L173.02,409.91 L173.33,410.30 L173.64,410.69 L173.95,411.08 L174.26,411.48 L174.56,411.87 L174.87,412.26 L175.17,412.66 L175.48,413.05 L175.78,413.45 L176.08,413.85 L176.38,414.24 L176.68,414.64 L176.98,415.04 L177.28,415.44 L177.58,415.84 L177.88,416.24 L178.18,416.64 L178.47,417.04 L178.77,417.44 L179.06,417.84 L179.35,418.25 L179.65,418.65 L179.94,419.05 L180.23,419.46 L180.52,419.86 L180.81,420.27 L181.10,420.67 L181.39,421.08 L181.67,421.49 L181.96,421.90 L182.25,422.31 L182.53,422.72 L182.81,423.13 L183.10,423.54 L183.38,423.95 L183.66,424.36 L183.94,424.77 L184.22,425.18 L184.50,425.60 L184.78,426.01 L185.05,426.42 L185.33,426.84 L185.61,427.25 L185.88,427.67 L186.15,428.09 L186.43,428.50 L186.70,428.92 L186.97,429.34 L187.24,429.76 L187.51,430.18 L187.78,430.60 L188.05,431.02 L188.32,431.44 L188.58,431.86 L188.85,432.28 L189.11,432.70 L189.38,433.12 L189.64,433.55 L189.90,433.97 L190.16,434.40 L190.42,434.82 L190.68,435.25 L190.94,435.67 L191.20,436.10 L191.45,436.53 L191.71,436.95 L191.97,437.38 L192.22,437.81 L192.47,438.24 L192.73,438.67 L192.98,439.10 L193.23,439.53 L193.48,439.96 L193.73,440.39 L193.98,440.82 L194.22,441.26 L194.47,441.69 L194.72,442.12 L194.96,442.56 L195.20,442.99 L195.45,443.43 L195.69,443.86 L195.93,444.30 L196.17,444.74 L196.41,445.17 L196.65,445.61 L196.89,446.05 L197.12,446.49 L197.36,446.93 L197.59,447.37 L197.83,447.81 L198.06,448.25 L198.29,448.69 L198.53,449.13 L198.76,449.57 L198.99,450.01 L199.21,450.45 L199.44,450.90 L199.67,451.34 L199.89,451.79 L200.12,452.23 L200.34,452.67 L200.57,453.12 L200.79,453.57 L201.01,454.01 L201.23,454.46 L201.45,454.91 L201.67,455.35 L201.89,455.80 L202.10,456.25 L202.32,456.70 L202.54,457.15 L202.75,457.60 L202.96,458.05 L203.18,458.50 L203.39,458.95 L203.60,459.40 L203.81,459.86 L204.01,460.31 L204.22,460.76 L204.43,461.21 L204.64,461.67 L204.84,462.12 L205.04,462.58 L205.25,463.03 L205.45,463.49 L205.65,463.94 L205.85,464.40 L206.05,464.86 L206.25,465.31 L206.44,465.77 L206.64,466.23 L206.84,466.69 L207.03,467.15 L207.22,467.61 L207.42,468.07 L207.61,468.53 L207.80,468.99 L207.99,469.45 L208.18,469.91 L208.37,470.37 L208.55,470.83 L208.74,471.29 L208.92,471.76 L209.11,472.22 L209.29,472.68 L209.47,473.15 L209.65,473.61 L209.83,474.08 L210.01,474.54 L210.19,475.01 L210.37,475.47 L210.54,475.94 L210.72,476.41 L210.89,476.87 L211.07,477.34 L211.24,477.81 L211.41,478.28 L211.58,478.75 L211.75,479.21 L211.92,479.68 L212.08,480.15 L212.25,480.62 L212.42,481.09 L212.58,481.56 L212.74,482.03 L212.91,482.51 L213.07,482.98 L213.23,483.45 L213.39,483.92 L213.55,484.40 L213.70,484.87 L213.86,485.34 L214.02,485.82 L214.17,486.29 L214.32,486.76 L214.48,487.24 L214.63,487.71 L214.78,488.19 L214.93,488.67 L215.08,489.14 L215.22,489.62 L215.37,490.10 L215.51,490.57 L215.66,491.05 L215.80,491.53 L215.94,492.01 L216.09,492.48 L216.23,492.96 L216.37,493.44 L216.50,493.92 L216.64,494.40 L216.78,494.88 L216.91,495.36 L217.05,495.84 L217.18,496.32 L217.31,496.80 L217.44,497.29 L217.57,497.77 L217.70,498.25 L217.83,498.73 L217.96,499.22 L218.08,499.70 L218.21,500.18 L218.33,500.67 L218.45,501.15 L218.57,501.63 L218.69,502.12 L218.81,502.60 L218.93,503.09 L219.05,503.57 L219.17,504.06 L219.28,504.55 L219.40,505.03" stroke="#a020f0" stroke-width="2.95" fill="none" stroke-linejoin="round"/>
<path d="M110.03,272.45 L110.67,272.55 L111.30,272.65 L111.93,272.75 L112.56,272.85 L113.19,272.95 L113.83,273.05 L114.46,273.15 L115.09,273.25 L115.72,273.35 L116.36,273.45 L116.99,273.55 L117.62,273.65 L118.25,273.74 L118.88,273.84 L119.52,273.94 L120.15,274.04 L120.78,274.14 L121.42,274.23 L122.05,274.33 L122.68,274.43 L123.31,274.53 L123.95,274.63 L124.58,274.72 L125.21,274.82 L125.84,274.92 L126.48,275.01 L127.11,275.11 L127.74,275.21 L128.38,275.30 L129.01,275.40 L129.64,275.50 L130.27,275.59 L130.91,275.69 L131.54,275.79 L132.17,275.88 L132.81,275.98 L133.44,276.07 L134.07,276.17 L134.71,276.26 L135.34,276.36 L135.97,276.46 L136.61,276.55 L137.24,276.65 L137.87,276.74 L138.51,276.84 L139.14,276.93 L139.77,277.03 L140.41,277.12 L141.04,277.22 L141.67,277.31 L142.31,277.41 L142.94,277.50 L143.57,277.59 L144.21,277.69 L144.84,277.78 L145.48,277.88 L146.11,277.97 L146.74,278.07 L147.38,278.16 L148.01,278.25 L148.64,278.35 L149.28,278.44 L149.91,278.54 L150.55,278.63 L151.18,278.72 L151.81,278.82 L152.45,278.91 L153.08,279.00 L153.72,279.10 L154.35,279.19 L154.98,279.28 L155.62,279.38 L156.25,279.47 L156.89,279.56 L157.52,279.66 L158.15,279.75 L158.79,279.84 L159.42,279.94 L160.06,280.03 L160.69,280.12 L161.32,280.22 L161.96,280.31 L162.59,280.40 L163.23,280.50 L163.86,280.59 L164.49,280.68 L165.13,280.77 L165.76,280.87 L166.40,280.96 L167.03,281.05 L167.67,281.14 L168.30,281.24 L168.93,281.33 L169.57,281.42 L170.20,281.52 L170.84,281.61 L171.47,281.70 L172.11,281.79 L172.74,281.89 L173.37,281.98 L174.01,282.07 L174.64,282.16 L175.28,282.26 L175.91,282.35 L176.55,282.44 L177.18,282.53 L177.82,282.63 L178.45,282.72 L179.08,282.81 L179.72,282.90 L180.35,283.00 L180.99,283.09 L181.62,283.18 L182.26,283.27 L182.89,283.37 L183.53,283.46 L184.16,283.55 L184.80,283.64 L185.43,283.74 L186.06,283.83 L186.70,283.92 L187.33,284.02 L187.97,284.11 L188.60,284.20 L189.24,284.29 L189.87,284.39 L190.51,284.48 L191.14,284.57 L191.77,284.66 L192.41,284.76 L193.04,284.85 L193.68,284.94 L194.31,285.04 L194.95,285.13 L195.58,285.22 L196.22,285.32 L196.85,285.41 L197.49,285.50 L198.12,285.60 L198.75,285.69 L199.39,285.78 L200.02,285.88 L200.66,285.97 L201.29,286.06 L201.93,286.16 L202.56,286.25 L203.20,286.34 L203.83,286.44 L204.47,286.53 L205.10,286.62 L205.73,286.72 L206.37,286.81 L207.00,286.91 L207.64,287.00 L208.27,287.09 L208.91,287.19 L209.54,287.28 L210.18,287.38 L210.81,287.47 L211.45,287.57 L212.08,287.66 L212.71,287.75 L213.35,287.85 L213.98,287.94 L214.62,288.04 L215.25,288.13 L215.89,288.23 L216.52,288.32 L217.15,288.42 L217.79,288.51 L218.42,288.61 L219.06,288.70 L219.69,288.80 L220.33,288.90 L220.96,288.99 L221.59,289.09 L222.23,289.18 L222.86,289.28 L223.50,289.37 L224.13,289.47 L224.77,289.57 L225.40,289.66 L226.03,289.76 L226.67,289.86 L227.30,289.95 L227.94,290.05 L228.57,290.15 L229.21,290.24 L229.84,290.34 L230.47,290.44 L231.11,290.53 L231.74,290.63 L232.38,290.73 L233.01,290.83 L233.64,290.92 L234.28,291.02 L234.91,291.12 L235.55,291.22 L236.18,291.32 L236.81,291.42 L237.45,291.51 L238.08,291.61 L238.72,291.71 L239.35,291.81 L239.98,291.91 L240.62,292.01 L241.25,292.11 L241.88,292.21 L242.52,292.31 L243.15,292.41 L243.79,292.51 L244.42,292.61 L245.05,292.71 L245.69,292.81 L246.32,292.91 L246.95,293.01 L247.59,293.11 L248.22,293.21 L248.85,293.31 L249.49,293.41 L250.12,293.52 L250.75,293.62 L251.39,293.72 L252.02,293.82 L252.65,293.93 L253.28,294.03 L253.92,294.14 L254.55,294.24 L255.18,294.34 L255.82,294.45 L256.45,294.55 L257.08,294.66 L257.71,294.76 L258.35,294.87 L258.98,294.98 L259.61,295.08 L260.24,295.19 L260.87,295.30 L261.51,295.41 L262.14,295.52 L262.77,295.62 L263.40,295.73 L264.03,295.84 L264.66,295.95 L265.29,296.06 L265.93,296.18 L266.56,296.29 L267.19,296.40 L267.82,296.51 L268.45,296.62 L269.08,296.74 L269.71,296.85 L270.34,296.97 L270.97,297.08 L271.60,297.20 L272.23,297.31 L272.86,297.43 L273.49,297.55 L274.12,297.66 L274.75,297.78 L275.38,297.90 L276.01,298.02 L276.64,298.14 L277.26,298.26 L277.89,298.38 L278.52,298.50 L279.15,298.63 L279.78,298.75 L280.41,298.87 L281.03,299.00 L281.66,299.12 L282.29,299.25 L282.92,299.38 L283.54,299.50 L284.17,299.63 L284.80,299.76 L285.42,299.89 L286.05,300.02 L286.68,300.15 L287.30,300.28 L287.93,300.41 L288.55,300.55 L289.18,300.68 L289.80,300.81 L290.43,300.95 L291.05,301.09 L291.68,301.22 L292.30,301.36 L292.93,301.50 L293.55,301.64 L294.18,301.78 L294.80,301.92 L295.42,302.06 L296.05,302.20 L296.67,302.35 L297.29,302.49 L297.91,302.64 L298.54,302.78 L299.16,302.93 L299.78,303.08 L300.40,303.23 L301.02,303.37 L301.64,303.53 L302.27,303.68 L302.89,303.83 L303.51,303.98 L304.13,304.14 L304.75,304.29 L305.37,304.45 L305.99,304.60 L306.60,304.76 L307.22,304.92 L307.84,305.08 L308.46,305.24 L309.08,305.40 L309.70,305.57 L310.31,305.73 L310.93,305.90 L311.55,306.06 L312.17,306.23 L312.78,306.40 L313.40,306.57 L314.01,306.74 L314.63,306.91 L315.24,307.08 L315.86,307.25 L316.47,307.43 L317.09,307.60 L317.70,307.78 L318.32,307.96 L318.93,308.13 L319.54,308.31 L320.16,308.49 L320.77,308.68 L321.38,308.86 L322.00,309.04 L322.61,309.23 L323.22,309.41 L323.83,309.60 L324.44,309.79 L325.05,309.98 L325.66,310.17 L326.27,310.36 L326.88,310.55 L327.49,310.75 L328.10,310.94 L328.71,311.14 L329.32,311.34 L329.93,311.54 L330.53,311.74 L331.14,311.94 L331.75,312.14 L332.36,312.34 L332.96,312.55 L333.57,312.76 L334.17,312.96 L334.78,313.17 L335.39,313.38 L335.99,313.59 L336.59,313.80 L337.20,314.02 L337.80,314.23 L338.41,314.45 L339.01,314.67 L339.61,314.88 L340.21,315.10 L340.82,315.33 L341.42,315.55 L342.02,315.77 L342.62,316.00 L343.22,316.22 L343.82,316.45 L344.42,316.68 L345.02,316.91 L345.62,317.14 L346.22,317.38 L346.82,317.61 L347.42,317.85 L348.01,318.08 L348.61,318.32 L349.21,318.56 L349.80,318.80 L350.40,319.04 L351.00,319.29 L351.59,319.53 L352.19,319.78 L352.78,320.03 L353.37,320.28 L353.97,320.53 L354.56,320.78 L355.15,321.03 L355.75,321.29 L356.34,321.55 L356.93,321.80 L357.52,322.06 L358.11,322.32 L358.70,322.59 L359.29,322.85 L359.88,323.12 L362.95,323.10 L363.75,322.41 L364.53,321.70 L365.28,320.99 L366.02,320.26 L366.74,319.53 L367.44,318.78 L368.12,318.02 L368.79,317.26 L369.43,316.48 L370.06,315.69 L370.68,314.90 L371.27,314.09 L371.86,313.27 L372.42,312.45 L372.97,311.62 L373.51,310.77 L374.03,309.93 L374.54,309.07 L375.04,308.20 L375.52,307.33 L375.99,306.45 L376.45,305.56 L376.90,304.67 L377.33,303.77 L377.76,302.86 L378.18,301.95 L378.58,301.03 L378.98,300.10 L379.37,299.17 L379.75,298.24 L380.12,297.30 L380.48,296.35 L380.84,295.40 L381.19,294.45 L381.53,293.49 L381.87,292.53 L382.20,291.56 L382.53,290.59 L382.85,289.62 L383.17,288.65 L383.48,287.67 L383.79,286.69 L384.10,285.71 L384.41,284.72 L384.71,283.74 L385.01,282.75 L385.31,281.76 L385.61,280.77 L385.91,279.78 L386.21,278.79 L386.51,277.80 L386.81,276.80 L387.11,275.81 L387.42,274.82 L387.72,273.83 L388.03,272.84 L388.34,271.85 L388.66,270.86 L388.98,269.88 L389.30,268.89 L389.63,267.91 L389.97,266.93 L390.30,265.95 L390.65,264.97 L391.00,264.00 L391.36,263.03 L391.73,262.06 L392.10,261.10 L392.48,260.14 L392.88,259.18 L393.28,258.23 L393.69,257.27 L394.11,256.33 L394.54,255.39 L394.98,254.45 L395.43,253.51 L395.90,252.59 L396.37,251.66 L396.86,250.74 L397.37,249.83 L397.88,248.92 L398.41,248.02 L398.96,247.12 L399.52,246.23 L400.10,245.34 L400.69,244.46 L401.29,243.59 L401.92,242.72 L402.56,241.86 L403.21,241.02 L403.89,240.19 L404.57,239.37 L405.28,238.58 L405.99,237.80 L406.73,237.05 L407.47,236.32 L408.24,235.63 L409.01,234.96 L409.80,234.32 L410.60,233.73 L411.42,233.16 L412.25,232.64 L413.09,232.16 L413.95,231.73 L414.82,231.34 L415.69,231.00 L416.59,230.71 L417.49,230.48 L418.40,230.29 L419.32,230.16 L420.24,230.08 L421.17,230.05 L422.09,230.07 L423.02,230.14 L423.95,230.26 L424.87,230.43 L425.78,230.64 L426.69,230.91 L427.59,231.22 L428.47,231.58 L429.34,231.99 L430.20,232.44 L431.05,232.94 L431.87,233.48 L432.68,234.06 L433.48,234.68 L434.26,235.33 L435.03,236.02 L435.78,236.74 L436.51,237.48 L437.23,238.25 L437.94,239.05 L438.62,239.86 L439.30,240.70 L439.96,241.55 L440.60,242.41 L441.23,243.29 L441.84,244.18 L442.44,245.07 L443.02,245.97 L443.58,246.87 L444.14,247.78 L444.67,248.69 L445.20,249.60 L445.71,250.52 L446.21,251.44 L446.69,252.37 L447.16,253.29 L447.63,254.23 L448.08,255.16 L448.51,256.10 L448.94,257.04 L449.36,257.98 L449.77,258.92 L450.17,259.87 L450.56,260.82 L450.94,261.78 L451.31,262.73 L451.68,263.69 L452.03,264.65 L452.39,265.61 L452.73,266.57 L453.07,267.54 L453.40,268.50 L453.73,269.47 L454.05,270.44 L454.37,271.41 L454.68,272.38 L454.99,273.35 L455.30,274.33 L455.60,275.30 L455.90,276.28 L456.20,277.25 L456.50,278.23 L456.79,279.21 L457.08,280.18 L457.37,281.16 L457.66,282.14 L457.95,283.12 L458.23,284.10 L458.51,285.08 L458.79,286.06 L459.07,287.05 L459.34,288.03 L459.61,289.01 L459.88,289.99 L460.15,290.98 L460.42,291.96 L460.68,292.95 L460.95,293.93 L461.21,294.92 L461.46,295.91 L461.72,296.90 L461.97,297.88 L462.22,298.87 L462.47,299.86 L462.72,300.85 L462.96,301.84 L463.21,302.83 L463.45,303.82 L463.68,304.82 L463.92,305.81 L464.15,306.80 L464.38,307.79 L464.61,308.79 L464.84,309.78 L465.07,310.78 L465.29,311.77 L465.51,312.77 L465.73,313.76 L465.94,314.76 L466.16,315.76 L466.37,316.76 L466.58,317.75 L466.79,318.75 L466.99,319.75 L467.19,320.75 L467.39,321.75 L467.59,322.75 L467.79,323.75 L467.98,324.75 L468.17,325.75 L468.36,326.76 L468.55,327.76 L468.74,328.76 L468.92,329.76 L469.10,330.77 L469.28,331.77 L469.45,332.78 L469.63,333.78 L469.80,334.79 L469.97,335.79 L470.14,336.80 L470.30,337.80 L470.46,338.81 L470.63,339.82 L470.78,340.83 L470.94,341.83 L471.10,342.84 L471.25,343.85 L471.40,344.86 L471.55,345.87 L471.69,346.88 L471.84,347.89 L471.98,348.90 L472.12,349.91 L472.26,350.92 L472.40,351.93 L472.53,352.94 L472.67,353.95 L472.80,354.96 L472.93,355.98 L473.06,356.99 L473.18,358.00 L473.31,359.02 L473.43,360.03 L473.55,361.04 L473.67,362.06 L473.79,363.07 L473.90,364.09 L474.02,365.10 L474.13,366.12 L474.24,367.13 L474.35,368.15 L474.46,369.16 L474.56,370.18 L474.67,371.19 L474.77,372.21 L474.87,373.23 L474.97,374.25 L475.07,375.26 L475.16,376.28 L475.26,377.30 L475.35,378.32 L475.44,379.33 L475.53,380.35 L475.62,381.37 L475.71,382.39 L475.80,383.41 L475.88,384.43 L475.97,385.45 L476.05,386.47 L476.13,387.49 L476.21,388.51 L476.29,389.53 L476.37,390.55 L476.44,391.57 L476.52,392.59 L476.59,393.61 L476.66,394.63 L476.73,395.65 L476.80,396.67 L476.87,397.69 L476.94,398.72 L477.01,399.74 L477.07,400.76 L477.14,401.78 L477.20,402.80 L477.26,403.82 L477.33,404.85 L477.39,405.87 L477.45,406.89 L477.50,407.91 L477.56,408.94 L477.62,409.96 L477.67,410.98 L477.73,412.00 L477.78,413.03 L477.83,414.05 L477.89,415.07 L477.94,416.10 L477.99,417.12 L478.04,418.14 L478.09,419.17 L478.14,420.19 L478.18,421.21 L478.23,422.24 L478.27,423.26 L478.32,424.29 L478.36,425.31 L478.41,426.33 L478.45,427.36 L478.49,428.38 L478.54,429.40 L478.58,430.43 L478.62,431.45 L478.66,432.48 L478.70,433.50 L478.74,434.52 L478.77,435.55 L478.81,436.57 L478.85,437.59 L478.89,438.62 L478.92,439.64 L478.96,440.67 L479.00,441.69 L479.03,442.71 L479.07,443.74 L479.10,444.76 L479.14,445.78 L479.17,446.81 L479.20,447.83 L479.24,448.85 L479.27,449.88 L479.30,450.90 L479.33,451.92 L479.37,452.95 L479.40,453.97 L479.43,454.99 L479.46,456.02 L479.49,457.04 L479.52,458.06 L479.56,459.08 L479.59,460.11 L479.62,461.13 L479.65,462.15 L479.68,463.17 L479.71,464.20 L479.74,465.22 L479.77,466.24 L479.80,467.26 L479.83,468.28 L479.86,469.31 L479.90,470.33 L479.93,471.35 L479.96,472.37 L479.99,473.39 L480.02,474.41 L480.05,475.43 L480.08,476.45 L480.11,477.47 L480.15,478.49 L480.18,479.51 L480.21,480.53 L480.24,481.55 L480.28,482.57 L480.31,483.59 L480.34,484.61 L480.38,485.63 L480.41,486.65 L480.44,487.67 L480.48,488.68 L480.51,489.70 L480.55,490.72 L480.59,491.74 L480.62,492.75 L480.66,493.77 L480.70,494.79 L480.73,495.81 L480.77,496.82 L480.81,497.84 L480.85,498.85 L480.89,499.87 L480.93,500.89 L480.97,501.90 L481.01,502.92 L481.05,503.93 L481.10,504.94 L481.14,505.96" stroke="#a020f0" stroke-width="2.95" fill="none" stroke-linejoin="round" stroke-dasharray="8.6,5.4" stroke-dashoffset="0.0"/>
</g>
<g stroke="#000" stroke-width="1.55">
<line x1="128.85" y1="500.20" x2="128.85" y2="493.40"/>
<line x1="128.85" y1="28.20" x2="128.85" y2="35.00"/>
<line x1="147.70" y1="500.20" x2="147.70" y2="493.40"/>
<line x1="147.70" y1="28.20" x2="147.70" y2="35.00"/>
<line x1="166.56" y1="500.20" x2="166.56" y2="493.40"/>
<line x1="166.56" y1="28.20" x2="166.56" y2="35.00"/>
<line x1="185.41" y1="500.20" x2="185.41" y2="493.40"/>
<line x1="185.41" y1="28.20" x2="185.41" y2="35.00"/>
<line x1="204.26" y1="500.20" x2="204.26" y2="486.80"/>
<line x1="204.26" y1="28.20" x2="204.26" y2="41.60"/>
<line x1="223.11" y1="500.20" x2="223.11" y2="493.40"/>
<line x1="223.11" y1="28.20" x2="223.11" y2="35.00"/>
<line x1="241.96" y1="500.20" x2="241.96" y2="493.40"/>
<line x1="241.96" y1="28.20" x2="241.96" y2="35.00"/>
<line x1="260.82" y1="500.20" x2="260.82" y2="493.40"/>
<line x1="260.82" y1="28.20" x2="260.82" y2="35.00"/>
<line x1="279.67" y1="500.20" x2="279.67" y2="493.40"/>
<line x1="279.67" y1="28.20" x2="279.67" y2="35.00"/>
<line x1="298.52" y1="500.20" x2="298.52" y2="486.80"/>
<line x1="298.52" y1="28.20" x2="298.52" y2="41.60"/>
<line x1="317.37" y1="500.20" x2="317.37" y2="493.40"/>
<line x1="317.37" y1="28.20" x2="317.37" y2="35.00"/>
<line x1="336.22" y1="500.20" x2="336.22" y2="493.40"/>
<line x1="336.22" y1="28.20" x2="336.22" y2="35.00"/>
<line x1="355.08" y1="500.20" x2="355.08" y2="493.40"/>
<line x1="355.08" y1="28.20" x2="355.08" y2="35.00"/>
<line x1="373.93" y1="500.20" x2="373.93" y2="493.40"/>
<line x1="373.93" y1="28.20" x2="373.93" y2="35.00"/>
<line x1="392.78" y1="500.20" x2="392.78" y2="486.80"/>
<line x1="392.78" y1="28.20" x2="392.78" y2="41.60"/>
<line x1="411.63" y1="500.20" x2="411.63" y2="493.40"/>
<line x1="411.63" y1="28.20" x2="411.63" y2="35.00"/>
<line x1="430.48" y1="500.20" x2="430.48" y2="493.40"/>
<line x1="430.48" y1="28.20" x2="430.48" y2="35.00"/>
<line x1="449.34" y1="500.20" x2="449.34" y2="493.40"/>
<line x1="449.34" y1="28.20" x2="449.34" y2="35.00"/>
<line x1="468.19" y1="500.20" x2="468.19" y2="493.40"/>
<line x1="468.19" y1="28.20" x2="468.19" y2="35.00"/>
<line x1="487.04" y1="500.20" x2="487.04" y2="486.80"/>
<line x1="487.04" y1="28.20" x2="487.04" y2="41.60"/>
<line x1="505.89" y1="500.20" x2="505.89" y2="493.40"/>
<line x1="505.89" y1="28.20" x2="505.89" y2="35.00"/>
<line x1="524.74" y1="500.20" x2="524.74" y2="493.40"/>
<line x1="524.74" y1="28.20" x2="524.74" y2="35.00"/>
<line x1="543.60" y1="500.20" x2="543.60" y2="493.40"/>
<line x1="543.60" y1="28.20" x2="543.60" y2="35.00"/>
<line x1="562.45" y1="500.20" x2="562.45" y2="493.40"/>
<line x1="562.45" y1="28.20" x2="562.45" y2="35.00"/>
<line x1="110.00" y1="110.68" x2="116.80" y2="110.68"/>
<line x1="581.30" y1="110.68" x2="574.50" y2="110.68"/>
<line x1="110.00" y1="89.90" x2="116.80" y2="89.90"/>
<line x1="581.30" y1="89.90" x2="574.50" y2="89.90"/>
<line x1="110.00" y1="75.16" x2="116.80" y2="75.16"/>
<line x1="581.30" y1="75.16" x2="574.50" y2="75.16"/>
<line x1="110.00" y1="63.72" x2="116.80" y2="63.72"/>
<line x1="581.30" y1="63.72" x2="574.50" y2="63.72"/>
<line x1="110.00" y1="54.38" x2="116.80" y2="54.38"/>
<line x1="581.30" y1="54.38" x2="574.50" y2="54.38"/>
<line x1="110.00" y1="46.48" x2="116.80" y2="46.48"/>
<line x1="581.30" y1="46.48" x2="574.50" y2="46.48"/>
<line x1="110.00" y1="39.64" x2="116.80" y2="39.64"/>
<line x1="581.30" y1="39.64" x2="574.50" y2="39.64"/>
<line x1="110.00" y1="33.60" x2="116.80" y2="33.60"/>
<line x1="581.30" y1="33.60" x2="574.50" y2="33.60"/>
<line x1="110.00" y1="146.20" x2="123.40" y2="146.20"/>
<line x1="581.30" y1="146.20" x2="567.90" y2="146.20"/>
<line x1="110.00" y1="228.68" x2="116.80" y2="228.68"/>
<line x1="581.30" y1="228.68" x2="574.50" y2="228.68"/>
<line x1="110.00" y1="207.90" x2="116.80" y2="207.90"/>
<line x1="581.30" y1="207.90" x2="574.50" y2="207.90"/>
<line x1="110.00" y1="193.16" x2="116.80" y2="193.16"/>
<line x1="581.30" y1="193.16" x2="574.50" y2="193.16"/>
<line x1="110.00" y1="181.72" x2="116.80" y2="181.72"/>
<line x1="581.30" y1="181.72" x2="574.50" y2="181.72"/>
<line x1="110.00" y1="172.38" x2="116.80" y2="172.38"/>
<line x1="581.30" y1="172.38" x2="574.50" y2="172.38"/>
<line x1="110.00" y1="164.48" x2="116.80" y2="164.48"/>
<line x1="581.30" y1="164.48" x2="574.50" y2="164.48"/>
<line x1="110.00" y1="157.64" x2="116.80" y2="157.64"/>
<line x1="581.30" y1="157.64" x2="574.50" y2="157.64"/>
<line x1="110.00" y1="151.60" x2="116.80" y2="151.60"/>
<line x1="581.30" y1="151.60" x2="574.50" y2="151.60"/>
<line x1="110.00" y1="264.20" x2="123.40" y2="264.20"/>
<line x1="581.30" y1="264.20" x2="567.90" y2="264.20"/>
<line x1="110.00" y1="346.68" x2="116.80" y2="346.68"/>
<line x1="581.30" y1="346.68" x2="574.50" y2="346.68"/>
<line x1="110.00" y1="325.90" x2="116.80" y2="325.90"/>
<line x1="581.30" y1="325.90" x2="574.50" y2="325.90"/>
<line x1="110.00" y1="311.16" x2="116.80" y2="311.16"/>
<line x1="581.30" y1="311.16" x2="574.50" y2="311.16"/>
<line x1="110.00" y1="299.72" x2="116.80" y2="299.72"/>
<line x1="581.30" y1="299.72" x2="574.50" y2="299.72"/>
<line x1="110.00" y1="290.38" x2="116.80" y2="290.38"/>
<line x1="581.30" y1="290.38" x2="574.50" y2="290.38"/>
<line x1="110.00" y1="282.48" x2="116.80" y2="282.48"/>
<line x1="581.30" y1="282.48" x2="574.50" y2="282.48"/>
<line x1="110.00" y1="275.64" x2="116.80" y2="275.64"/>
<line x1="581.30" y1="275.64" x2="574.50" y2="275.64"/>
<line x1="110.00" y1="269.60" x2="116.80" y2="269.60"/>
<line x1="581.30" y1="269.60" x2="574.50" y2="269.60"/>
<line x1="110.00" y1="382.20" x2="123.40" y2="382.20"/>
<line x1="581.30" y1="382.20" x2="567.90" y2="382.20"/>
<line x1="110.00" y1="464.68" x2="116.80" y2="464.68"/>
<line x1="581.30" y1="464.68" x2="574.50" y2="464.68"/>
<line x1="110.00" y1="443.90" x2="116.80" y2="443.90"/>
<line x1="581.30" y1="443.90" x2="574.50" y2="443.90"/>
<line x1="110.00" y1="429.16" x2="116.80" y2="429.16"/>
<line x1="581.30" y1="429.16" x2="574.50" y2="429.16"/>
<line x1="110.00" y1="417.72" x2="116.80" y2="417.72"/>
<line x1="581.30" y1="417.72" x2="574.50" y2="417.72"/>
<line x1="110.00" y1="408.38" x2="116.80" y2="408.38"/>
<line x1="581.30" y1="408.38" x2="574.50" y2="408.38"/>
<line x1="110.00" y1="400.48" x2="116.80" y2="400.48"/>
<line x1="581.30" y1="400.48" x2="574.50" y2="400.48"/>
<line x1="110.00" y1="393.64" x2="116.80" y2="393.64"/>
<line x1="581.30" y1="393.64" x2="574.50" y2="393.64"/>
<line x1="110.00" y1="387.60" x2="116.80" y2="387.60"/>
<line x1="581.30" y1="387.60" x2="574.50" y2="387.60"/>
</g>
<g stroke="#000" stroke-linecap="square">
<line x1="110.00" y1="28.20" x2="110.00" y2="500.20" stroke-width="1.9"/>
<line x1="581.30" y1="28.20" x2="581.30" y2="500.20" stroke-width="1.5"/>
<line x1="110.00" y1="28.20" x2="581.30" y2="28.20" stroke-width="1.6"/>
<line x1="110.00" y1="500.20" x2="581.30" y2="500.20" stroke-width="1.6"/>
</g>
<line x1="142.4" y1="99.1" x2="179" y2="99.1" stroke="#000" stroke-width="3.3" stroke-dasharray="8.6,5.4"/>
<line x1="142.4" y1="127.4" x2="180.7" y2="127.4" stroke="#000" stroke-width="3.3"/>
<line x1="21.4" y1="304.1" x2="41.6" y2="315.2" stroke="#000" stroke-width="1.6" stroke-linecap="round"/>
<line x1="364.0" y1="538.3" x2="353.6" y2="557.3" stroke="#000" stroke-width="1.6" stroke-linecap="round"/>
</svg>
<div class="t xt" style="left:85.1px">8</div>
<div class="t xt" style="left:179.4px">9</div>
<div class="t xt" style="left:273.8px">10</div>
<div class="t xt" style="left:368.1px">11</div>
<div class="t xt" style="left:462.3px">12</div>
<div class="t xt" style="left:556.6px">13</div>
<div class="t yt" style="left:36.3px;top:17.1px">1</div>
<div class="t yt" style="left:36.2px;top:135.1px">0.1</div>
<div class="t yt" style="left:19.4px;top:253.1px">10</div><div class="sp" style="left:82.2px;top:254.2px">−2</div>
<div class="t yt" style="left:19.4px;top:371.1px">10</div><div class="sp" style="left:82.2px;top:372.2px">−3</div>
<div class="t yt" style="left:19.4px;top:489.1px">10</div><div class="sp" style="left:82.2px;top:490.2px">−4</div>
<div class="t lg" id="l1" style="-webkit-text-stroke:0.08px #000;left:166.6px;top:60.8px;transform:scaleX(1.325);word-spacing:1px">halo mass:</div>
<div class="t lg" id="l2" style="-webkit-text-stroke:0.08px #000;left:191px;top:87.3px;transform:scaleX(1.18)">evolving</div>
<div class="t lg" id="l3" style="-webkit-text-stroke:0.08px #000;left:190.5px;top:117.1px;transform:scaleX(1.23)">fixed</div>
<div class="t lg" id="r1" style="left:504.2px;top:65px;color:#0000ff;transform:scaleX(0.95);letter-spacing:2.4px">C+G</div>
<div class="t lg" id="r2" style="left:503.3px;top:93.8px;color:#00cd00;transform:scaleX(0.82);letter-spacing:0.7px">MNW</div>
<div class="t lg" id="r3" style="left:506.8px;top:122.2px;color:#a020f0;transform:scaleX(0.865)">BWC</div>
<div class="t" id="yl">
<span class="mi" style="left:-2.0px"><i>m</i></span><span class="sb" style="left:21.0px">model</span><span class="" style="left:61.0px">(</span><span class="w" style="left:69.1px">z</span><span class="w" style="left:82.5px">=</span><span class="" style="left:99.0px">0</span><span class="" style="left:111.4px">)</span><span class="mi" style="left:141.6px"><i>m</i></span><span class="sb" style="left:165.6px">model</span><span class="" style="left:206.3px">(</span><span class="w" style="left:213.7px"><i>t</i></span><span class="w" style="left:224.7px">=</span><span class="" style="left:242.0px">1</span><span class="" style="left:258.0px">G</span><span class="w" style="left:272.8px">y</span><span class="w" style="left:285.0px">r</span><span class="" style="left:296.4px">)</span><span class="" style="left:317.2px">−</span><span class="" style="left:342.5px">1</span>
</div>
<div id="xl">
<span style="left:285.8px">log</span><span style="left:323px">(</span><span style="left:329.3px;top:534.8px;transform:scaleX(0.8);transform-origin:0 0"><i>M</i></span><span style="left:371px;top:534.8px;transform:scaleX(0.7);transform-origin:0 0">M</span><span style="left:395.5px">)</span>
</div>
</div></body></html>
